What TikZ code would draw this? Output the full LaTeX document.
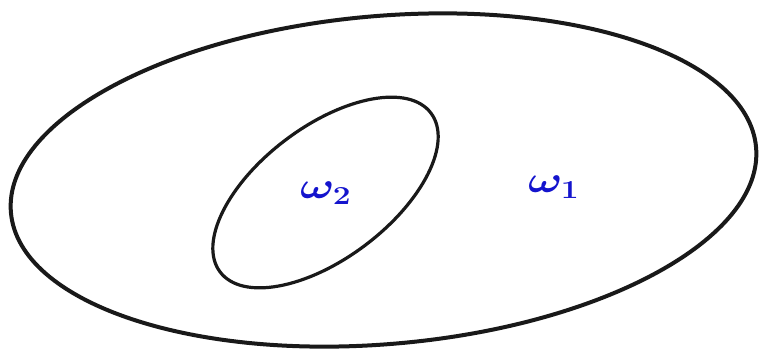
\documentclass[tikz,border=0pt]{standalone}
\usepackage{amsmath,bm}
\begin{document}
\begin{tikzpicture}[x=1pt,y=-1pt,
  curve/.style={draw=black!90,line width=4pt},
  inner/.style={draw=black!90,line width=3.2pt},
  lab/.style={text=labblue,inner sep=0pt,font=\huge}]
\definecolor{labblue}{RGB}{20,20,205}
\useasboundingbox (0,0) rectangle (759,351);
\draw[curve,rotate around={5:(383.5,180)}] (383.5,180) ellipse [x radius=374,y radius=164];
\draw[inner,rotate around={37:(325.5,192.5)}] (325.5,192.5) ellipse [x radius=132,y radius=66];
\node[lab] (w2) at (326,193) {\scalebox{2.2}[1.8]{$\bm{\omega}_{\bm 2}$}};
\node[lab] (w1) at (554,187) {\scalebox{2.2}[1.8]{$\bm{\omega}_{\bm 1}$}};
\end{tikzpicture}
\end{document}
